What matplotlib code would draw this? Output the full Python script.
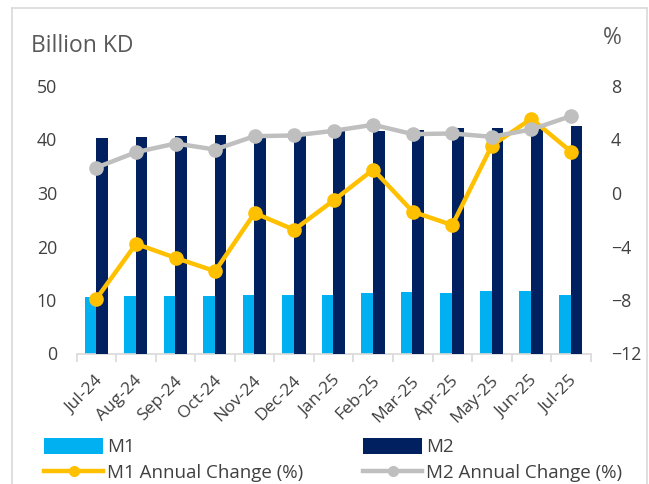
import matplotlib
matplotlib.use("Agg")
import matplotlib.pyplot as plt
from matplotlib.lines import Line2D
from matplotlib.patches import Patch
from matplotlib.transforms import ScaledTranslation
import numpy as np

plt.rcParams['font.family'] = ['Open Sans', 'DejaVu Sans']

months = ["Jul-24", "Aug-24", "Sep-24", "Oct-24", "Nov-24", "Dec-24", "Jan-25",
          "Feb-25", "Mar-25", "Apr-25", "May-25", "Jun-25", "Jul-25"]
m1 = [10.6, 10.8, 10.7, 10.8, 11.0, 10.9, 10.9, 11.3, 11.5, 11.4, 11.6, 11.6, 11.0]
m2 = [40.2, 40.5, 40.7, 40.9, 41.1, 41.2, 41.5, 41.5, 41.8, 42.2, 42.1, 42.3, 42.5]
m1_chg = [-7.9, -3.8, -4.85, -5.85, -1.5, -2.75, -0.55, 1.75, -1.4, -2.4, 3.55, 5.55, 3.1]
m2_chg = [1.9, 3.05, 3.7, 3.25, 4.25, 4.3, 4.65, 5.1, 4.4, 4.45, 4.2, 4.75, 5.75]

C_M1 = "#00B0F0"
C_M2 = "#002060"
C_GOLD = "#FFC000"
C_GRAY = "#BFBFBF"
TXT = "#404040"
AXC = "#D9D9D9"

fig = plt.figure(figsize=(6.49, 4.84), dpi=100)
W, H = 649, 484
ax = fig.add_axes([76.7 / W, 1 - 353.5 / H, (590.7 - 76.7) / W, (353.5 - 86) / H])

x = np.arange(len(months))
bw = 0.295
ax.bar(x - 0.155, m1, width=bw, color=C_M1, zorder=2)
ax.bar(x + 0.14, m2, width=bw, color=C_M2, zorder=3)

ax.set_xlim(-0.5, len(months) - 0.5)
ax.set_ylim(0, 50)
ax.set_yticks([0, 10, 20, 30, 40, 50])
for s in ["top", "left", "right"]:
    ax.spines[s].set_visible(False)
ax.spines["bottom"].set_color(AXC)
ax.spines["bottom"].set_linewidth(1.2)
ax.tick_params(axis="y", length=0, pad=14.2, labelsize=12.8, labelcolor=TXT)
ax.set_xticks(x)
ax.set_xticklabels(months, rotation=45, ha="right", va="center",
                   rotation_mode="anchor", fontsize=12.5, color=TXT)
ax.tick_params(axis="x", which="major", length=0, pad=18)
off = ScaledTranslation(4 / 100, 0, fig.dpi_scale_trans)
for lab in ax.get_xticklabels():
    lab.set_transform(lab.get_transform() + off)
ax.set_xticks(np.arange(-0.5, len(months), 1), minor=True)
ax.tick_params(axis="x", which="minor", length=5.5, width=1.2, color=AXC)

ax2 = ax.twinx()
ax2.plot(x, m1_chg, color=C_GOLD, lw=3.2, marker="o", ms=9.5, zorder=4)
ax2.plot(x, m2_chg, color=C_GRAY, lw=3.2, marker="o", ms=9.5, zorder=5)
ax2.set_ylim(-12, 8)
ax2.set_yticks([-12, -8, -4, 0, 4, 8])
for s in ["top", "left", "right", "bottom"]:
    ax2.spines[s].set_visible(False)
ax2.tick_params(axis="y", length=0, pad=14.6, labelsize=12.8, labelcolor=TXT)

fig.text(31 / W, 1 - 46 / H, "Billion KD", ha="left", va="center",
         fontsize=16.5, color="#595959")
fig.text(612 / W, 1 - 38 / H, "%", ha="center", va="center",
         fontsize=16.5, color="#595959")

h_m1 = Patch(facecolor=C_M1, edgecolor="none")
h_m2 = Patch(facecolor=C_M2, edgecolor="none")
h_c1 = Line2D([], [], color=C_GOLD, lw=3.2, marker="o", ms=7)
h_c2 = Line2D([], [], color=C_GRAY, lw=3.2, marker="o", ms=7)

common = dict(loc="upper left", frameon=False, borderpad=0, borderaxespad=0,
              handlelength=3.15, handleheight=0.95, handletextpad=0.22,
              labelspacing=0.4, numpoints=1, fontsize=13.5, labelcolor=TXT)
fig.legend([h_m1, h_c1], ["M1", "M1 Annual Change (%)"],
           bbox_to_anchor=(44 / W, 1 - 437.5 / H), **common)
fig.legend([h_m2, h_c2], ["M2", "M2 Annual Change (%)"],
           bbox_to_anchor=(363 / W, 1 - 437.5 / H), **common)

# outer border (top, left, right)
bx0, bx1, by0 = 12 / W, 646.7 / W, 1 - 8.3 / H
for xs, ys in [([bx0, bx1], [by0, by0]), ([bx0, bx0], [by0, 0]), ([bx1, bx1], [by0, 0])]:
    fig.add_artist(Line2D(xs, ys, color=AXC, lw=1.2, transform=fig.transFigure))

fig.savefig("out.png", dpi=100)
